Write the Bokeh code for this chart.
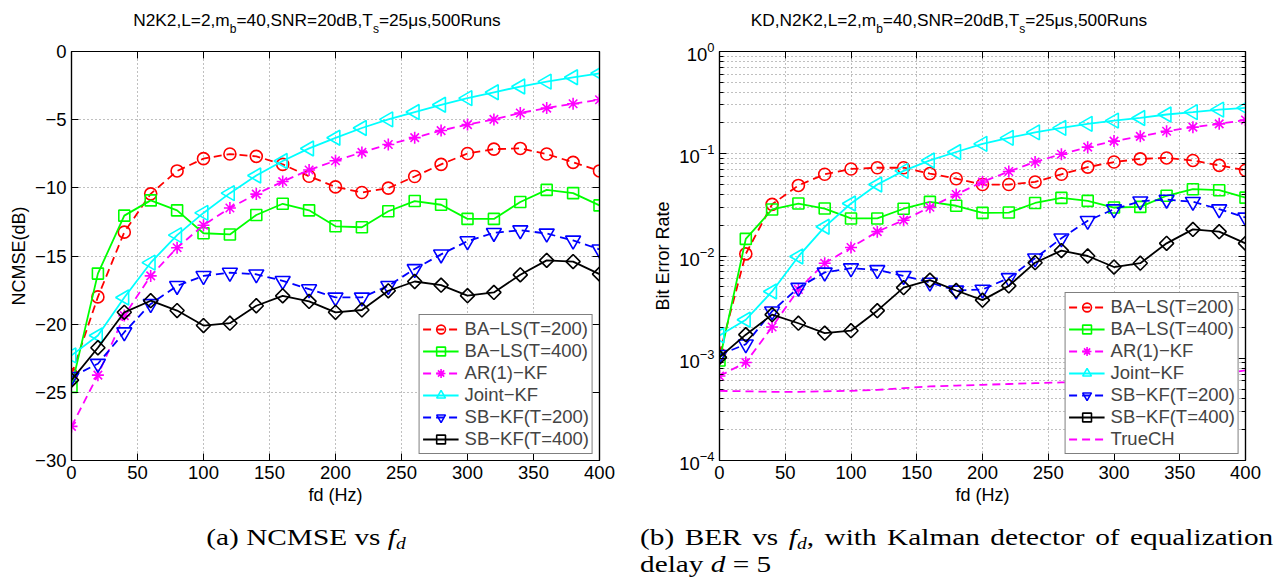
import numpy as np
from bokeh.plotting import figure
from bokeh.models import (Range1d, FixedTicker, LinearAxis, LogAxis, Legend, LegendItem,
                          Div, CustomJSTickFormatter, LogTickFormatter)
from bokeh.layouts import column, row
from bokeh.embed import file_html
from bokeh.resources import INLINE

# ---------------- data ----------------
fd = [0, 20, 40, 60, 80, 100, 120, 140, 160, 180, 200, 220, 240, 260, 280, 300, 320, 340, 360, 380, 400]

# (a) NCMSE (dB)
ncmse_bals_200 = [-23.7, -18.0, -13.25, -10.44, -8.76, -7.86, -7.52, -7.69, -8.28, -9.15, -9.93,
                  -10.34, -10.02, -9.17, -8.28, -7.48, -7.16, -7.11, -7.52, -8.13, -8.76]
ncmse_bals_400 = [-24.6, -16.29, -12.04, -10.92, -11.65, -13.33, -13.42, -11.99, -11.17, -11.65, -12.82,
                  -12.89, -11.72, -10.97, -11.24, -12.28, -12.28, -11.04, -10.15, -10.39, -11.29]
ncmse_ar1_kf = [-27.5, -23.74, -19.37, -16.46, -14.39, -12.74, -11.48, -10.46, -9.54, -8.69, -8.01,
                -7.40, -6.82, -6.32, -5.80, -5.36, -4.98, -4.51, -4.15, -3.83, -3.54]
ncmse_joint_kf = [-22.29, -20.83, -18.04, -15.49, -13.47, -11.84, -10.39, -9.10, -8.03, -7.11, -6.33,
                  -5.61, -4.98, -4.44, -3.91, -3.42, -2.99, -2.57, -2.21, -1.89, -1.60]
ncmse_sbkf_200 = [-23.87, -22.9, -20.59, -18.52, -17.19, -16.46, -16.22, -16.34, -16.82, -17.43, -18.04,
                  -18.04, -17.19, -15.95, -14.88, -13.91, -13.30, -13.11, -13.35, -13.86, -14.51]
ncmse_sbkf_400 = [-24.1, -21.73, -19.13, -18.28, -19.0, -20.1, -19.93, -18.65, -17.92, -18.33, -19.13,
                  -18.96, -17.55, -16.87, -17.14, -17.91, -17.67, -16.38, -15.32, -15.41, -16.33]

# (b) BER
ber_bals_200 = [1.1e-3, 0.0105, 0.032, 0.049, 0.063, 0.071, 0.073, 0.073, 0.064, 0.057, 0.050,
                0.050, 0.053, 0.063, 0.074, 0.083, 0.089, 0.091, 0.086, 0.077, 0.069]
ber_bals_400 = [0.00095, 0.0147, 0.0285, 0.0326, 0.0291, 0.0233, 0.0233, 0.029, 0.0338, 0.031, 0.0264,
                0.0266, 0.033, 0.037, 0.0346, 0.0298, 0.0302, 0.0388, 0.045, 0.044, 0.0372]
ber_ar1_kf = [0.00067, 0.00091, 0.00202, 0.0047, 0.0085, 0.0121, 0.0173, 0.0224, 0.030, 0.040, 0.053,
              0.067, 0.083, 0.099, 0.116, 0.133, 0.148, 0.166, 0.182, 0.196, 0.214]
ber_joint_kf = [0.00167, 0.00238, 0.0045, 0.0099, 0.0193, 0.0326, 0.050, 0.068, 0.086, 0.104, 0.125,
                0.143, 0.162, 0.179, 0.196, 0.211, 0.224, 0.242, 0.255, 0.270, 0.281]
ber_sbkf_200 = [0.00108, 0.00137, 0.00288, 0.0049, 0.0069, 0.0076, 0.0073, 0.0064, 0.0055, 0.0046, 0.0047,
                0.0061, 0.0095, 0.0149, 0.0221, 0.0287, 0.0343, 0.0356, 0.0339, 0.0287, 0.0238]
ber_sbkf_400 = [0.00102, 0.0017, 0.00267, 0.0022, 0.00176, 0.00186, 0.00292, 0.0049, 0.0058, 0.0046, 0.0037,
                0.0051, 0.0086, 0.0113, 0.0100, 0.0078, 0.0085, 0.0133, 0.0182, 0.0173, 0.0133]
ber_true_ch = [4.8e-4, 4.75e-4, 4.7e-4, 4.7e-4, 4.75e-4, 4.8e-4, 4.9e-4, 5.1e-4, 5.3e-4, 5.4e-4, 5.5e-4,
               5.6e-4, 5.7e-4, 5.8e-4, 5.9e-4, 6.0e-4, 6.1e-4, 6.3e-4, 6.6e-4, 7.0e-4, 7.6e-4]

labels = ["BA\u2212LS(T=200)", "BA\u2212LS(T=400)", "AR(1)\u2212KF", "Joint\u2212KF",
          "SB\u2212KF(T=200)", "SB\u2212KF(T=400)", "TrueCH"]
x_ticks = [0, 50, 100, 150, 200, 250, 300, 350, 400]
ncmse_ticks = [-30, -25, -20, -15, -10, -5, 0]
ber_ticks = [1e-4, 1e-3, 1e-2, 1e-1, 1.0]

# ---------------- styles ----------------
FONT = "Liberation Sans"
TICK_FS = "18.5px"
DASH = "8 5"
series_style = [
    dict(color="#ff0000", dash=DASH, marker="circle", size=12, angle=0.0),
    dict(color="#00ff00", dash="solid", marker="square", size=11, angle=0.0),
    dict(color="#ff00ff", dash=DASH, marker="asterisk", size=12, angle=0.0),
    dict(color="#00ffff", dash="solid", marker="triangle", size=15, angle=np.pi / 2),
    dict(color="#0000ff", dash=DASH, marker="inverted_triangle", size=15, angle=0.0),
    dict(color="#000000", dash="solid", marker="square", size=10, angle=np.pi / 4),
]

EMPTY = CustomJSTickFormatter(code="return '';")


def style_axis(ax, show_labels=True, minor=False):
    ax.axis_line_color = "black"
    ax.axis_line_width = 1.2
    ax.major_tick_in = 7
    ax.major_tick_out = 0
    ax.major_tick_line_color = "black"
    ax.minor_tick_in = 4 if minor else 0
    ax.minor_tick_out = 0
    ax.minor_tick_line_color = "black" if minor else None
    ax.major_label_text_font = FONT
    ax.major_label_text_font_size = TICK_FS if show_labels else "1px"
    ax.major_label_text_color = "black"
    ax.major_label_standoff = 5 if show_labels else 0
    ax.axis_label_text_font = FONT
    ax.axis_label_text_font_size = "18px"
    ax.axis_label_text_font_style = "normal"
    ax.axis_label_text_color = "black"
    ax.axis_label_standoff = 3
    if not show_labels:
        ax.formatter = EMPTY


def add_series(p, ys, st, label):
    l = p.line(fd, ys, line_color=st["color"], line_width=1.8, line_dash=st["dash"])
    s = p.scatter(fd, ys, marker=st["marker"], size=st["size"], angle=st["angle"],
                  line_color=st["color"], fill_color=None, line_width=1.6)
    return LegendItem(label=label, renderers=[l, s])


def style_legend(lg):
    lg.location = "bottom_right"
    lg.margin = 6
    lg.label_text_font = FONT
    lg.label_text_font_size = "18.5px"
    lg.glyph_width = 36
    lg.glyph_height = 22
    lg.label_height = 22
    lg.label_standoff = 6
    lg.spacing = 0
    lg.padding = 3
    lg.border_line_color = "black"
    lg.border_line_width = 1
    lg.background_fill_color = "white"
    lg.background_fill_alpha = 1.0


# ---------------- (a) NCMSE ----------------
p1 = figure(width=640, height=472, x_range=Range1d(0, 400), y_range=Range1d(-30, 0),
            output_backend="svg", toolbar_location=None,
            min_border_left=71, min_border_right=41, min_border_top=14, min_border_bottom=45)
xt1 = FixedTicker(ticks=x_ticks)
yt1 = FixedTicker(ticks=ncmse_ticks)
p1.xaxis.ticker = xt1
p1.yaxis.ticker = yt1
p1.yaxis.formatter = CustomJSTickFormatter(code="return tick < 0 ? '\u2212' + Math.abs(tick) : String(tick);")
p1.xaxis.axis_label = "fd (Hz)"
p1.yaxis.axis_label = "NCMSE(dB)"
style_axis(p1.xaxis[0])
style_axis(p1.yaxis[0])
ax_top1 = LinearAxis(ticker=xt1)
ax_right1 = LinearAxis(ticker=yt1)
style_axis(ax_top1, show_labels=False)
style_axis(ax_right1, show_labels=False)
p1.add_layout(ax_top1, "above")
p1.add_layout(ax_right1, "right")
p1.grid.grid_line_color = "#808080"
p1.grid.grid_line_dash = "1 3"
p1.grid.grid_line_width = 1
p1.outline_line_color = "black"
p1.outline_line_width = 1.2

ncmse_series = [ncmse_bals_200, ncmse_bals_400, ncmse_ar1_kf, ncmse_joint_kf, ncmse_sbkf_200, ncmse_sbkf_400]
items1 = [add_series(p1, ys, st, lab) for ys, st, lab in zip(ncmse_series, series_style, labels)]
lg1 = Legend(items=items1)
style_legend(lg1)
p1.add_layout(lg1)

# ---------------- (b) BER ----------------
p2 = figure(width=637, height=472, x_range=Range1d(0, 400), y_range=Range1d(1e-4, 1),
            y_axis_type="log", output_backend="svg", toolbar_location=None,
            min_border_left=79, min_border_right=32, min_border_top=16, min_border_bottom=45)
minor_ber = [m * 10.0 ** e for e in range(-4, 0) for m in range(2, 10)]
xt2 = FixedTicker(ticks=x_ticks)
yt2 = FixedTicker(ticks=ber_ticks, minor_ticks=minor_ber)
p2.xaxis.ticker = xt2
p2.yaxis.ticker = yt2
p2.yaxis.formatter = LogTickFormatter()
p2.xaxis.axis_label = "fd (Hz)"
p2.yaxis.axis_label = "Bit Error Rate"
style_axis(p2.xaxis[0])
style_axis(p2.yaxis[0], minor=True)
ax_top2 = LinearAxis(ticker=xt2)
ax_right2 = LogAxis(ticker=yt2)
style_axis(ax_top2, show_labels=False)
style_axis(ax_right2, show_labels=False, minor=True)
p2.add_layout(ax_top2, "above")
p2.add_layout(ax_right2, "right")
p2.grid.grid_line_color = "#808080"
p2.grid.grid_line_dash = "1 3"
p2.grid.grid_line_width = 1
p2.ygrid.minor_grid_line_color = "#808080"
p2.ygrid.minor_grid_line_dash = "1 3"
p2.ygrid.minor_grid_line_width = 1
p2.outline_line_color = "black"
p2.outline_line_width = 1.2

ber_series = [ber_bals_200, ber_bals_400, ber_ar1_kf, ber_joint_kf, ber_sbkf_200, ber_sbkf_400]
items2 = [add_series(p2, ys, st, lab) for ys, st, lab in zip(ber_series, series_style, labels)]
lt = p2.line(fd, ber_true_ch, line_color="#ff00ff", line_width=1.8, line_dash=DASH)
items2.append(LegendItem(label=labels[6], renderers=[lt]))
lg2 = Legend(items=items2)
style_legend(lg2)
p2.add_layout(lg2)

# ---------------- titles & captions ----------------
SUB = "<sub style='font-size:12px;vertical-align:-7px;line-height:0'>{}</sub>"
TSTYLE = ("font-family:'Liberation Sans',Arial,sans-serif;font-size:17.3px;color:#000;"
          "white-space:nowrap;line-height:20px;padding-top:10px;text-align:center;")
title1_html = ("<div style=\"width:634px;" + TSTYLE + "\">N2K2,L=2,m" + SUB.format("b") +
               "=40,SNR=20dB,T" + SUB.format("s") + "=25\u03bcs,500Runs</div>")
title2_html = ("<div style=\"width:618px;" + TSTYLE + "\">KD,N2K2,L=2,m" + SUB.format("b") +
               "=40,SNR=20dB,T" + SUB.format("s") + "=25\u03bcs,500Runs</div>")
t1 = Div(text=title1_html, width=640, height=35, margin=0)
t2 = Div(text=title2_html, width=637, height=35, margin=0)

SCALE = 1.22
CSTYLE = ("font-family:'Liberation Serif','Times New Roman',serif;font-size:24px;color:#000;"
          "line-height:26.5px;padding-top:17px;")
FD = "<i>f</i><sub style='font-size:16px;vertical-align:-4px;line-height:0'><i>d</i></sub>"
cap1_html = ("<div style=\"width:612px;text-align:center;transform:scaleX(%.2f);transform-origin:306px 0;"
             % SCALE + CSTYLE + "\">(a) NCMSE vs " + FD + "</div>")
cap2_html = ("<div style=\"width:%dpx;transform:scaleX(%.2f);transform-origin:0 0;" % (int(634 / SCALE), SCALE) +
             CSTYLE + "\">"
             "<div style='text-align:justify;text-align-last:justify'>(b) BER vs " + FD +
             ", with Kalman detector of equalization</div>"
             "<div>delay <i>d</i> = 5</div></div>")
c1 = Div(text=cap1_html, width=640, height=70, margin=0)
c2 = Div(text=cap2_html, width=637, height=70, margin=0)

layout = column(row(t1, t2), row(p1, p2), row(c1, c2))

with open("out.html", "w", encoding="utf-8") as f:
    f.write(file_html(layout, INLINE, title="NCMSE and BER vs fd"))
